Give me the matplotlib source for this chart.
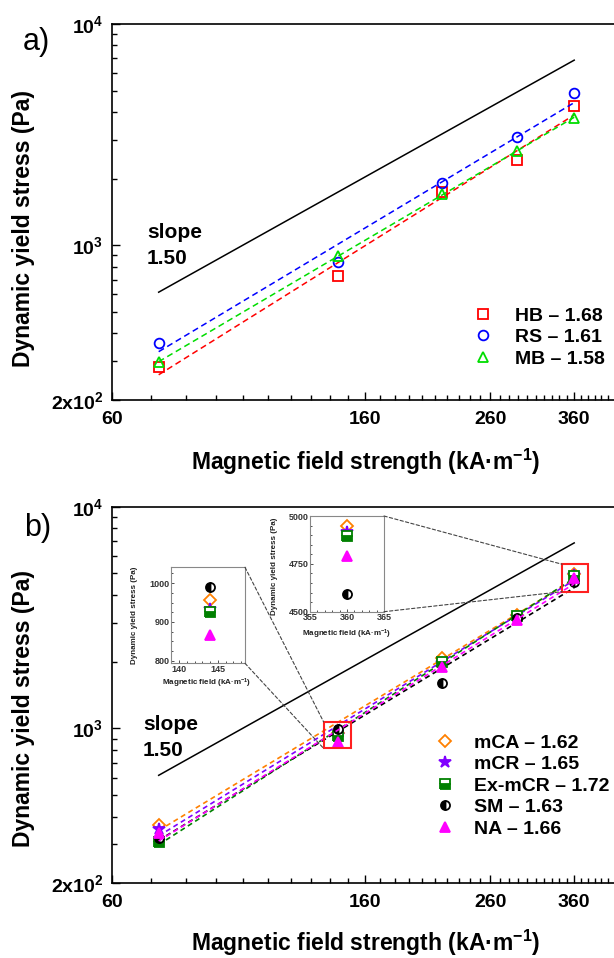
import numpy as np
import matplotlib
matplotlib.use("Agg")
import matplotlib.pyplot as plt
from matplotlib.ticker import FixedLocator, FixedFormatter, NullFormatter, MultipleLocator
from matplotlib.patches import Rectangle, ConnectionPatch
from matplotlib.lines import Line2D

plt.rcParams['font.family'] = ['Liberation Sans', 'DejaVu Sans']
plt.rcParams['font.weight'] = 'bold'
plt.rcParams['mathtext.fontset'] = 'custom'
plt.rcParams['mathtext.rm'] = 'Liberation Sans:bold'
plt.rcParams['mathtext.bf'] = 'Liberation Sans:bold'
plt.rcParams['mathtext.default'] = 'rm'

# field strength (kA/m)
field = np.array([72, 144, 216, 288, 360])

# panel a: yield stress (Pa)
hb = np.array([281, 727, 1737, 2440, 4270])
rs = np.array([362, 841, 1916, 3090, 4880])
mb = np.array([298, 895, 1697, 2660, 3760])

# panel b
mca = np.array([366, 956, 2068, 3244, 4946])
mcr = np.array([350, 932, 1977, 3190, 4916])
exmcr = np.array([308, 925, 1997, 3212, 4893])
sm = np.array([319, 989, 1596, 3160, 4590])
na = np.array([336, 866, 1896, 3080, 4791])

# slope 1.50 guide line, value at 72 kA/m
ref_y72 = 614
ref_slope = 1.5

W, H = 614, 958
def fx(px): return px / W
def fy(py): return 1 - py / H

fig = plt.figure(figsize=(W/100, H/100), dpi=100)

def fit_line(x, y, k):
    c = np.mean(np.log(y) - k*np.log(x))
    xx = np.array([x.min(), x.max()])
    return xx, np.exp(c) * xx**k

def setup(ax):
    ax.set_xscale('log'); ax.set_yscale('log')
    ax.set_xlim(60, 420)
    ax.set_ylim(200, 10000)
    ax.xaxis.set_major_locator(FixedLocator([60, 160, 260, 360]))
    ax.xaxis.set_major_formatter(FixedFormatter(['60', '160', '260', '360']))
    minor = [v for v in range(70, 420, 10) if v not in (160, 260, 360)]
    ax.xaxis.set_minor_locator(FixedLocator(minor))
    ax.xaxis.set_minor_formatter(NullFormatter())
    ax.yaxis.set_major_locator(FixedLocator([200, 1000, 10000]))
    ax.yaxis.set_major_formatter(FixedFormatter(['2x10$^2$', '10$^3$', '10$^4$']))
    ax.yaxis.set_minor_locator(FixedLocator([300, 400, 500, 600, 700, 800, 900,
                                             2000, 3000, 4000, 5000, 6000, 7000, 8000, 9000]))
    ax.yaxis.set_minor_formatter(NullFormatter())
    ax.tick_params(which='both', direction='in', labelsize=14, width=1)
    ax.tick_params(which='major', length=6)
    ax.tick_params(which='minor', length=3.5)
    ax.tick_params(axis='x', pad=8)
    ax.tick_params(axis='y', pad=6)
    ax.spines['right'].set_visible(False)
    for s in ('left', 'bottom', 'top'):
        ax.spines[s].set_linewidth(1.2)
    xr = np.array([field.min(), field.max()])
    ax.plot(xr, ref_y72*(xr/72.0)**ref_slope, color='black', lw=1.1)

# ---------------- panel a ----------------
axa = fig.add_axes([fx(111.6), fy(400), fx(614) - fx(111.6), fy(24) - fy(400)])
setup(axa)
series_a = [(hb, 1.68, 'HB', 's', '#ff0000'),
            (rs, 1.61, 'RS', 'o', '#0000ff'),
            (mb, 1.58, 'MB', '^', '#00dd00')]
handles = []
for y, k, name, m, c in series_a:
    xx, yy = fit_line(field, y, k)
    axa.plot(xx, yy, ls=(0, (4, 2.5)), color=c, lw=1.1)
    axa.plot(field, y, ls='none', marker=m, ms=7, mfc='none', mec=c, mew=1.3)
    handles.append(Line2D([], [], ls='none', marker=m, ms=7, mfc='none', mec=c, mew=1.3,
                          label='%s \u2013 %.2f' % (name, k)))
fig.legend(handles=handles, loc='upper left', bbox_to_anchor=(fx(473), fy(307)),
           frameon=False, fontsize=14, handlelength=1.0, handletextpad=1.15,
           labelspacing=0.2, borderpad=0, borderaxespad=0)
fig.text(fx(147), fy(232), 'slope', fontsize=15, ha='left', va='center')
fig.text(fx(147), fy(258), '1.50', fontsize=15, ha='left', va='center')
fig.text(fx(36), fy(42), 'a)', fontsize=22, fontweight='normal', ha='center', va='center')
fig.text(fx(24), fy(228.5), 'Dynamic yield stress (Pa)', fontsize=16.5, rotation=90,
         ha='center', va='center')
fig.text(fx(366), fy(462), 'Magnetic field strength (kA\u00b7m$^{-1}$)', fontsize=16.5,
         ha='center', va='center')

# ---------------- panel b ----------------
axb = fig.add_axes([fx(111.6), fy(883.3), fx(614) - fx(111.6), fy(506.7) - fy(883.3)])
setup(axb)
series_b = [(mca, 1.62, 'mCA', 'D', '#ff8000', dict(mfc='none', ms=6.5)),
            (mcr, 1.65, 'mCR', '*', '#8000ff', dict(mfc='#8000ff', ms=9)),
            (exmcr, 1.72, 'Ex-mCR', 's', '#008000', dict(mfc='#008000', fillstyle='bottom', mfcalt='white', ms=6.5)),
            (sm, 1.63, 'SM', 'o', '#000000', dict(mfc='black', fillstyle='left', mfcalt='white', ms=6.5)),
            (na, 1.66, 'NA', '^', '#ff00ff', dict(mfc='#ff00ff', ms=7.5))]
handles = []
for y, k, name, m, c, kw in series_b:
    xx, yy = fit_line(field, y, k)
    axb.plot(xx, yy, ls=(0, (3, 2.2)), color=c, lw=1.2)
    axb.plot(field, y, ls='none', marker=m, mec=c, mew=1.3, **kw)
    handles.append(Line2D([], [], ls='none', marker=m, mec=c, mew=1.3,
                          label='%s \u2013 %.2f' % (name, k), **kw))
fig.legend(handles=handles, loc='upper left', bbox_to_anchor=(fx(435), fy(734)),
           frameon=False, fontsize=14, handlelength=1.0, handletextpad=1.0,
           labelspacing=0.2, borderpad=0, borderaxespad=0)
fig.text(fx(143), fy(724), 'slope', fontsize=15, ha='left', va='center')
fig.text(fx(143), fy(750), '1.50', fontsize=15, ha='left', va='center')
fig.text(fx(38), fy(528), 'b)', fontsize=22, fontweight='normal', ha='center', va='center')
fig.text(fx(24), fy(708.5), 'Dynamic yield stress (Pa)', fontsize=16.5, rotation=90,
         ha='center', va='center')
fig.text(fx(366), fy(943), 'Magnetic field strength (kA\u00b7m$^{-1}$)', fontsize=16.5,
         ha='center', va='center')

# zoom boxes (data coords)
box1 = (136.4, 151.4, 812, 1069)
box2 = (343.5, 379.6, 4137, 5499)
for x0, x1, y0, y1 in (box1, box2):
    axb.add_patch(Rectangle((x0, y0), x1 - x0, y1 - y0, fill=False, ec='#ff2020', lw=1.5, zorder=5))

# insets
def make_inset(rect, xlim, ylim, xt, yt, idx, lab_x, lab_y, ylab_pos, xlab_pos):
    ins = fig.add_axes(rect)
    ins.set_xlim(*xlim); ins.set_ylim(*ylim)
    ins.set_xticks(xt); ins.set_yticks(yt)
    ins.xaxis.set_minor_locator(MultipleLocator(1))
    ins.yaxis.set_minor_locator(MultipleLocator(lab_y))
    ins.tick_params(which='both', direction='in', labelsize=6.5, pad=1, width=0.6, colors='#333333')
    ins.tick_params(which='major', length=2.5)
    ins.tick_params(which='minor', length=1.2)
    for s in ins.spines.values():
        s.set_color('#888888'); s.set_linewidth(0.8)
    for y, k, name, m, c, kw in series_b:
        ins.plot(field[idx], y[idx], ls='none', marker=m, mec=c, mew=1.3, **kw)
    fig.text(fx(ylab_pos[0]), fy(ylab_pos[1]), 'Dynamic yield stress (Pa)', fontsize=5.8,
             rotation=90, ha='center', va='center', color='#222222')
    fig.text(fx(xlab_pos[0]), fy(xlab_pos[1]), 'Magnetic field (kA\u00b7m$^{-1}$)', fontsize=5.8,
             ha='center', va='center', color='#222222')
    return ins

ins1 = make_inset([fx(170.7), fy(663.3), fx(245) - fx(170.7), fy(567.3) - fy(663.3)],
                  (138.9, 148.5), (793, 1041), [140, 145], [800, 900, 1000], 1, 1, 25,
                  (135, 615), (207, 683))
ins2 = make_inset([fx(310), fy(611.7), fx(384) - fx(310), fy(516) - fy(611.7)],
                  (355, 365), (4500, 5000), [355, 360, 365], [4500, 4750, 5000], 4, 1, 50,
                  (274, 566), (346.5, 634))

# connector lines from inset corners to zoom boxes
for ins, (x0, x1, y0, y1) in ((ins1, box1), (ins2, box2)):
    for ya, yb in ((1, y1), (0, y0)):
        con = ConnectionPatch(xyA=(1, ya), coordsA=ins.transAxes, xyB=(x0, yb), coordsB=axb.transData,
                              ls=(0, (3, 2)), color='#444444', lw=0.8)
        fig.add_artist(con)

fig.savefig('out.png', dpi=100)
